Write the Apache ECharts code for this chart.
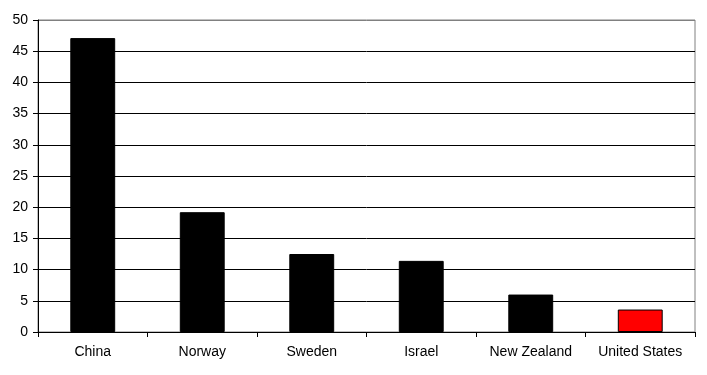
<!DOCTYPE html>
<html><head><meta charset="utf-8">
<script src="https://cdn.jsdelivr.net/npm/echarts@6/dist/echarts.min.js"></script>
<style>html,body{margin:0;padding:0;background:#fff}#c{width:707px;height:375px}</style>
</head><body><div id="c"></div>
<script>
const categories = ["China","Norway","Sweden","Israel","New Zealand","United States"];
const values = [47.1, 19.2, 12.5, 11.4, 6.0, 3.6];
const barColors = ["#000000","#000000","#000000","#000000","#000000","#ff0000"];
const yTicks = [0,5,10,15,20,25,30,35,40,45,50];

const chart = echarts.init(document.getElementById('c'));
chart.setOption({
  animation: false,
  backgroundColor: '#fff',
  grid: {left: 38, right: 12, top: 20, bottom: 43, show: true, borderColor: '#808080', borderWidth: 1},
  xAxis: {
    type: 'category', data: categories,
    axisLine: {lineStyle: {color: '#000', width: 1}},
    axisTick: {show: true, length: 5, lineStyle: {color: '#000'}},
    axisLabel: {color: '#000', fontFamily: 'Liberation Sans, Arial', fontSize: 14, margin: 13}
  },
  yAxis: {
    type: 'value', min: 0, max: 50, interval: 5,
    axisLine: {show: true, lineStyle: {color: '#000', width: 1}},
    axisTick: {show: true, length: 5, lineStyle: {color: '#000'}},
    splitLine: {show: true, lineStyle: {color: ['#000','#000','#000','#000','#000','#000','#000','#000','#000','#000','#808080'], width: 1}},
    axisLabel: {color: '#000', fontFamily: 'Liberation Sans, Arial', fontSize: 14, margin: 10,
      formatter: v => yTicks.includes(v) ? String(v) : ''}
  },
  series: [{
    type: 'bar', barWidth: '41%',
    data: values.map((v,i) => ({value: v, itemStyle: {color: barColors[i], borderColor: '#000', borderWidth: 1}}))
  }]
});
</script></body></html>
